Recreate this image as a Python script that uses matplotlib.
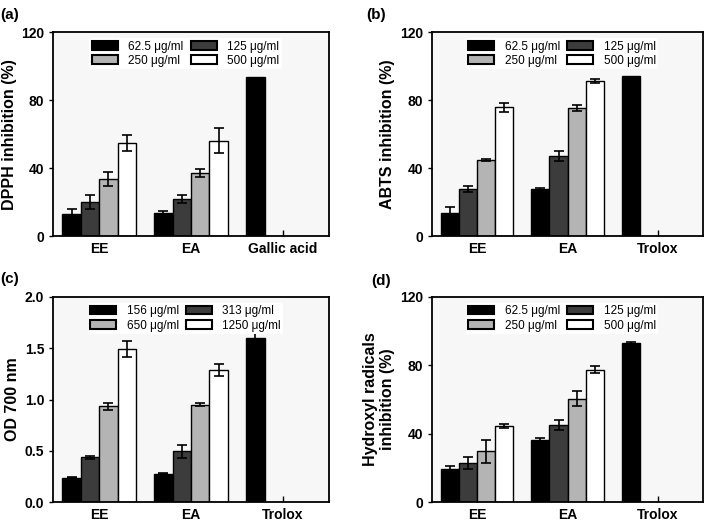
import numpy as np
import matplotlib.pyplot as plt

plt.rcParams['font.family'] = ['Liberation Sans', 'DejaVu Sans']

# data
groups_std = ['EE', 'EA', 'Gallic acid']
groups_tro = ['EE', 'EA', 'Trolox']
conc_a = ['62.5 μg/ml', '125 μg/ml', '250 μg/ml', '500 μg/ml']
conc_c = ['156 μg/ml', '313 μg/ml', '650 μg/ml', '1250 μg/ml']

# rows = groups (EE, EA, standard), cols = concentrations; NaN = no bar
dpph = np.array([[12.7, 20.2, 33.5, 54.8],
                 [13.7, 21.9, 37.0, 56.2],
                 [93.4, np.nan, np.nan, np.nan]])
dpph_err = np.array([[3.0, 4.0, 4.3, 4.9],
                     [0.8, 2.4, 2.3, 7.4],
                     [0.0, np.nan, np.nan, np.nan]])

abts = np.array([[13.3, 27.6, 45.0, 75.8],
                 [27.4, 47.2, 75.4, 91.2],
                 [94.4, np.nan, np.nan, np.nan]])
abts_err = np.array([[3.9, 1.8, 0.6, 2.5],
                     [1.0, 3.1, 1.5, 1.2],
                     [0.0, np.nan, np.nan, np.nan]])

od700 = np.array([[0.238, 0.44, 0.933, 1.491],
                  [0.277, 0.496, 0.949, 1.289],
                  [1.605, np.nan, np.nan, np.nan]])
od700_err = np.array([[0.004, 0.015, 0.036, 0.08],
                      [0.004, 0.065, 0.015, 0.06],
                      [0.06, np.nan, np.nan, np.nan]])

hydroxyl = np.array([[19.5, 23.0, 29.8, 44.8],
                     [36.6, 45.2, 60.6, 77.5],
                     [93.1, np.nan, np.nan, np.nan]])
hydroxyl_err = np.array([[1.5, 3.3, 6.6, 1.2],
                         [1.2, 3.1, 4.3, 2.2],
                         [0.8, np.nan, np.nan, np.nan]])

colors = ['#000000', '#3c3c3c', '#b4b4b4', '#ffffff']
w = 0.2


def panel(ax, vals, errs, groups, labels, ylabel, ylim, yticks, fmt):
    x = np.arange(len(groups))
    for j in range(4):
        v = vals[:, j]
        e = errs[:, j]
        m = ~np.isnan(v)
        ax.bar(x[m] + (j - 1.5) * w, v[m], w, color=colors[j], edgecolor='black',
               linewidth=1.0, label=labels[j], zorder=2)
        me = m & (e > 0)
        ax.errorbar(x[me] + (j - 1.5) * w, v[me], yerr=e[me], fmt='none', ecolor='black',
                    elinewidth=1.2, capsize=3.5, capthick=1.2, zorder=3)
    ax.set_facecolor('#f7f7f7')
    ax.set_xlim(-0.5, 2.5)
    ax.set_ylim(*ylim)
    ax.set_xticks(x)
    ax.set_xticklabels(groups, fontsize=10, fontweight='bold')
    ax.set_yticks(yticks)
    ax.set_yticklabels([fmt.format(t) for t in yticks], fontsize=10, fontweight='bold')
    ax.tick_params(axis='x', direction='in', length=4, width=1, pad=4)
    ax.tick_params(axis='y', direction='out', length=3, width=1)
    ax.set_ylabel(ylabel, fontsize=11.5, fontweight='bold', labelpad=3)
    for s in ax.spines.values():
        s.set_linewidth(1.3)
    h, l = ax.get_legend_handles_labels()
    order = [0, 2, 1, 3]  # row-wise fill
    leg = ax.legend([h[i] for i in order], [l[i] for i in order],
                    loc='upper center', ncol=2, fontsize=8.5, frameon=True, framealpha=1,
                    edgecolor='none', facecolor='white', handlelength=2.2, handleheight=0.75,
                    columnspacing=0.6, handletextpad=0.9, labelspacing=0.2,
                    borderpad=0.2, bbox_to_anchor=(0.48, 1.0))
    for p in leg.get_patches():
        p.set_linewidth(1.5)


fig = plt.figure(figsize=(7.09, 5.21), dpi=100)
ax_a = fig.add_axes([0.075, 0.547, 0.389, 0.391])
ax_b = fig.add_axes([0.609, 0.547, 0.383, 0.391])
ax_c = fig.add_axes([0.075, 0.036, 0.389, 0.394])
ax_d = fig.add_axes([0.609, 0.036, 0.383, 0.394])

panel(ax_a, dpph, dpph_err, groups_std, conc_a, 'DPPH inhibition (%)',
      (0, 120), [0, 40, 80, 120], '{:.0f}')
panel(ax_b, abts, abts_err, groups_tro, conc_a, 'ABTS inhibition (%)',
      (0, 120), [0, 40, 80, 120], '{:.0f}')
panel(ax_c, od700, od700_err, groups_tro, conc_c, 'OD 700 nm',
      (0, 2.0), [0, 0.5, 1.0, 1.5, 2.0], '{:.1f}')
panel(ax_d, hydroxyl, hydroxyl_err, groups_tro, conc_a, 'Hydroxyl radicals\ninhibition (%)',
      (0, 120), [0, 40, 80, 120], '{:.0f}')

fig.text(0.0, 0.985, '(a)', fontsize=11, fontweight='bold', va='top')
fig.text(0.517, 0.985, '(b)', fontsize=11, fontweight='bold', va='top')
fig.text(0.0, 0.478, '(c)', fontsize=11, fontweight='bold', va='top')
fig.text(0.523, 0.475, '(d)', fontsize=11, fontweight='bold', va='top')

fig.savefig('out.png', dpi=100)
